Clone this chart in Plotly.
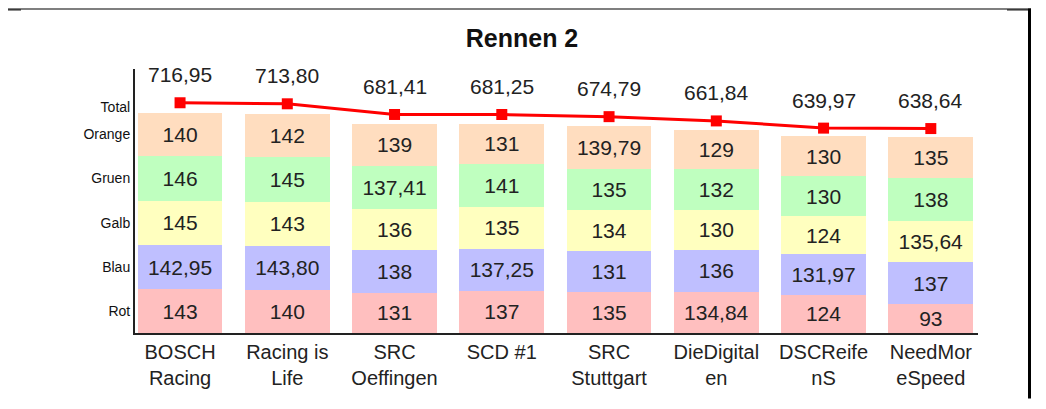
import plotly.graph_objects as go

teams = ["BOSCH<br>Racing", "Racing is<br>Life", "SRC<br>Oeffingen", "SCD #1",
         "SRC<br>Stuttgart", "DieDigital<br>en", "DSCReife<br>nS", "NeedMor<br>eSpeed"]
rot = [143, 140, 131, 137, 135, 134.84, 124, 93]
blau = [142.95, 143.80, 138, 137.25, 131, 136, 131.97, 137]
gelb = [145, 143, 136, 135, 134, 130, 124, 135.64]
gruen = [146, 145, 137.41, 141, 135, 132, 130, 138]
orange = [140, 142, 139, 131, 139.79, 129, 130, 135]
total = [716.95, 713.80, 681.41, 681.25, 674.79, 661.84, 639.97, 638.64]
series_names = ["Rot", "Blau", "Gelb", "Gruen", "Orange"]
axis_labels = ["Rot", "Blau", "Galb", "Gruen", "Orange", "Total"]

FONT = "Liberation Sans, Arial, sans-serif"
OFF = 8  # page body margin
RIGHT_EDGE = 1031  # visible right edge of the page
W, H = RIGHT_EDGE - OFF, 409 - 2 * OFF
L, T = 135 - OFF, 69 - OFF
R = W - (978 - OFF)
B = H - (335 - OFF)
PW, PH = W - L - R, H - T - B


def fmt(v, always_dec=False):
    if not always_dec and float(v).is_integer():
        return str(int(v))
    return f"{v:.2f}".replace(".", ",")


colors = ["#FFBFBF", "#BFBFFF", "#FFFFBF", "#BFFFBF", "#FFDDBF"]
series = [rot, blau, gelb, gruen, orange]
xs = list(range(len(teams)))

fig = go.Figure()
for name, vals, col in zip(series_names, series, colors):
    fig.add_trace(go.Bar(
        x=xs, y=vals, name=name, marker=dict(color=col, line=dict(width=0)),
        width=0.79, text=[fmt(v) for v in vals], textposition="inside",
        insidetextanchor="middle", textangle=0,
        textfont=dict(family=FONT, size=21, color="#222222"),
        constraintext="none", cliponaxis=False,
    ))

fig.add_trace(go.Scatter(
    x=xs, y=total, yaxis="y2", mode="lines+markers", name="Total",
    line=dict(color="#FF0000", width=3),
    marker=dict(symbol="square", size=11, color="#FF0000"),
    cliponaxis=False,
))

annotations = [dict(x=x, y=v, xref="x", yref="y2", yshift=28, showarrow=False,
                    text=fmt(v, True), font=dict(family=FONT, size=21, color="#222222"))
               for x, v in zip(xs, total)]

# y tick positions: midpoints of first bar's segments, plus Total
cum = 0
tickvals = []
for s in series:
    tickvals.append(cum + s[0] / 2)
    cum += s[0]
tickvals.append(total[0] + 17)


def px_x(p):
    return (p - OFF - L) / PW


def px_y(p):
    return (H - B - (p - OFF)) / PH


def rect(x0, y0, x1, y1):
    return dict(type="rect", xref="paper", yref="paper",
                x0=px_x(x0), x1=px_x(x1), y0=px_y(y1), y1=px_y(y0),
                fillcolor="black", line=dict(width=0), layer="above")


shapes = [
    rect(OFF, OFF, RIGHT_EDGE, 9),
    rect(OFF, 9, 21, 10),
    rect(RIGHT_EDGE - 24, 9, RIGHT_EDGE - 3, 10),
    rect(RIGHT_EDGE - 3, OFF, RIGHT_EDGE, OFF + H),
]

fig.update_layout(
    width=W, height=H, barmode="stack", showlegend=False,
    margin=dict(l=L, r=R, t=T, b=B),
    paper_bgcolor="white", plot_bgcolor="white",
    title=dict(text="<b>Rennen 2</b>", x=(522 - OFF) / W, xanchor="center",
               y=1 - (38 - OFF) / H, yanchor="middle",
               font=dict(family=FONT, size=25, color="#111111")),
    xaxis=dict(range=[-0.42, 7.44], tickmode="array", tickvals=xs, ticktext=teams,
               showgrid=False, zeroline=False, showline=True, linecolor="#222222", linewidth=2,
               ticks="", tickfont=dict(family=FONT, size=20, color="#222222")),
    yaxis=dict(range=[0, 859], tickmode="array", tickvals=tickvals, ticktext=axis_labels,
               showgrid=False, zeroline=False, showline=True, linecolor="#222222", linewidth=2,
               ticks="", ticklabelstandoff=0,
               tickfont=dict(family=FONT, size=14, color="#111111")),
    yaxis2=dict(range=[18.2, 819.4], overlaying="y", visible=False),
    annotations=annotations, shapes=shapes,
)

fig.write_html("out.html")
